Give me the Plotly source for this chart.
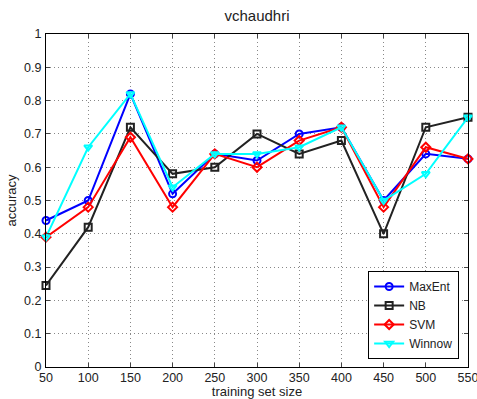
import plotly.graph_objects as go

x_sizes = [50, 100, 150, 200, 250, 300, 350, 400, 450, 500, 550]
maxent = [0.44, 0.50, 0.82, 0.52, 0.64, 0.62, 0.70, 0.72, 0.50, 0.64, 0.625]
nb = [0.245, 0.42, 0.72, 0.58, 0.60, 0.70, 0.64, 0.68, 0.40, 0.72, 0.75]
svm = [0.39, 0.48, 0.69, 0.48, 0.64, 0.60, 0.68, 0.72, 0.48, 0.66, 0.625]
winnow = [0.39, 0.66, 0.82, 0.54, 0.64, 0.64, 0.66, 0.72, 0.50, 0.58, 0.75]

series = [
    ("MaxEnt", maxent, "#0000ff", "circle-open"),
    ("NB", nb, "#222222", "square-open"),
    ("SVM", svm, "#ff0000", "diamond-open"),
    ("Winnow", winnow, "#00ffff", "triangle-down-open"),
]

fig = go.Figure()
for name, vals, col, sym in series:
    fig.add_trace(go.Scatter(
        x=x_sizes, y=vals, name=name, mode="lines+markers",
        line=dict(color=col, width=2),
        marker=dict(symbol=sym, size=7, color=col, line=dict(width=2, color=col)),
        cliponaxis=False,
    ))

font = "Liberation Sans, Arial, sans-serif"
fig.update_layout(
    width=477, height=399,
    margin=dict(l=46, r=9, t=34, b=32),
    paper_bgcolor="white", plot_bgcolor="white",
    font=dict(family=font, size=12, color="#222"),
    title=dict(text="vchaudhri", x=0.5, xanchor="center", xref="paper",
               y=1, yref="container", yanchor="top", pad=dict(t=10),
               font=dict(size=15, color="#222")),
    showlegend=True,
    legend=dict(x=0.979, y=0.024, xanchor="right", yanchor="bottom",
                bgcolor="white", bordercolor="black", borderwidth=1,
                font=dict(size=12, color="#222"), tracegroupgap=0,
                itemwidth=30),
)
fig.update_xaxes(
    range=[50, 550], tickvals=x_sizes, ticks="inside", ticklen=4,
    showline=True, linecolor="black", linewidth=1.3, mirror="ticks",
    showgrid=True, gridcolor="#888888", griddash="1px,3px", gridwidth=1,
    zeroline=False, tickfont=dict(size=12.5), automargin=False,
    ticklabeloverflow="allow", ticklabelstandoff=-1,
    title=dict(text="training set size", standoff=2, font=dict(size=13)),
)
fig.update_yaxes(
    range=[0, 1], dtick=0.1, tickformat="~g", ticks="inside", ticklen=4,
    showline=True, linecolor="black", linewidth=1.3, mirror="ticks",
    showgrid=True, gridcolor="#888888", griddash="1px,3px", gridwidth=1,
    zeroline=False, tickfont=dict(size=12.5), automargin=False,
    ticklabelstandoff=1,
    title=dict(text="accuracy", standoff=4, font=dict(size=13)),
)
fig.write_html("out.html", config={"displayModeBar": False},
               post_script="document.body.style.margin='0';document.body.style.padding='0';")
